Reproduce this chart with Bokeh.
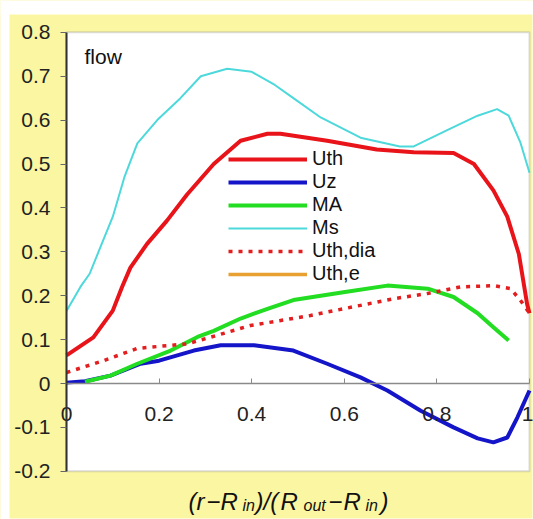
from bokeh.plotting import figure
from bokeh.models import (Legend, LegendItem, Label, FixedTicker, CustomJSTickFormatter,
                          Range1d, BoxAnnotation)
from bokeh.embed import file_html
from bokeh.resources import INLINE

# ---------------- data ----------------
ms_x = [0, 0.03, 0.05, 0.073, 0.10, 0.125, 0.153, 0.196, 0.246, 0.29, 0.347, 0.40, 0.45,
        0.49, 0.549, 0.635, 0.72, 0.75, 0.82, 0.888, 0.93, 0.955, 0.98, 1.0]
ms_y = [0.165, 0.22, 0.25, 0.31, 0.38, 0.47, 0.547, 0.60, 0.65, 0.70, 0.717, 0.71, 0.68,
        0.65, 0.606, 0.56, 0.54, 0.54, 0.576, 0.61, 0.625, 0.61, 0.55, 0.48]

uth_x = [0, 0.058, 0.10, 0.12, 0.138, 0.174, 0.217, 0.26, 0.318, 0.376, 0.434, 0.462,
         0.563, 0.67, 0.75, 0.836, 0.88, 0.922, 0.952, 0.977, 0.995, 1.0]
uth_y = [0.064, 0.105, 0.166, 0.22, 0.264, 0.318, 0.371, 0.43, 0.50, 0.553, 0.569, 0.569,
         0.553, 0.533, 0.527, 0.525, 0.50, 0.44, 0.38, 0.295, 0.18, 0.16]

uz_x = [0, 0.04, 0.095, 0.16, 0.2, 0.275, 0.333, 0.405, 0.49, 0.563, 0.635, 0.693,
        0.765, 0.836, 0.888, 0.922, 0.952, 0.974, 1.0]
uz_y = [0.002, 0.005, 0.018, 0.045, 0.052, 0.075, 0.087, 0.087, 0.075, 0.045, 0.014, -0.016,
        -0.062, -0.10, -0.125, -0.134, -0.123, -0.077, -0.016]

ma_x = [0.04, 0.095, 0.153, 0.225, 0.283, 0.318, 0.376, 0.434, 0.49, 0.598, 0.693, 0.78,
        0.836, 0.888, 0.922, 0.955]
ma_y = [0.004, 0.018, 0.045, 0.075, 0.106, 0.12, 0.148, 0.17, 0.19, 0.208, 0.223, 0.216,
        0.197, 0.16, 0.128, 0.098]

dia_x = [0, 0.08, 0.153, 0.225, 0.26, 0.326, 0.397, 0.46, 0.527, 0.635, 0.706, 0.78,
         0.851, 0.922, 0.959, 0.98, 1.0]
dia_y = [0.025, 0.052, 0.08, 0.087, 0.09, 0.11, 0.132, 0.143, 0.155, 0.178, 0.193, 0.205,
         0.22, 0.223, 0.216, 0.19, 0.16]

# Uth,e appears only in the legend (no visible curve)
uthe_x = [float("nan")]
uthe_y = [float("nan")]

x_ticks = [0, 0.2, 0.4, 0.6, 0.8, 1.0]
y_ticks = [-0.2, -0.1, 0, 0.1, 0.2, 0.3, 0.4, 0.5, 0.6, 0.7, 0.8]

# ---------------- page geometry (pixels) ----------------
FIG_W, FIG_H = 533, 519
FRAME_L, FRAME_R = 66.0, 529.0      # x = 0 .. 1
Y0_PX, PX_PER_Y = 383.0, 439.0      # y = 0 line, px per unit
px_to_x = lambda X: (X - FRAME_L) / (FRAME_R - FRAME_L)
px_to_y = lambda Y: (Y0_PX - Y) / PX_PER_Y

FONT = "Liberation Sans"
YELLOW = "#FAF6A2"

p = figure(width=FIG_W, height=FIG_H, output_backend="svg", toolbar_location=None,
           x_range=Range1d(px_to_x(0), px_to_x(FIG_W)),
           y_range=Range1d(px_to_y(FIG_H), px_to_y(0)),
           min_border=0)
p.title.visible = False
p.background_fill_color = YELLOW
p.border_fill_color = YELLOW
p.outline_line_color = None
p.xgrid.visible = False
p.ygrid.visible = False

# white page margins around the yellow panel
for kw in (dict(bottom=px_to_y(14)), dict(right=px_to_x(9)),
           dict(left=px_to_x(532)), dict(top=px_to_y(518))):
    p.add_layout(BoxAnnotation(fill_color="white", fill_alpha=1, line_color=None,
                               level="underlay", **kw))
# white plot area with grey border
p.add_layout(BoxAnnotation(left=0, right=1, bottom=-0.2, top=0.8, fill_color="white",
                           fill_alpha=1, line_color="#8a8a8a", line_width=2,
                           level="underlay"))

fmt = CustomJSTickFormatter(code="""
if (Math.abs(tick) < 1e-9) return "0";
if (Math.abs(tick - 1) < 1e-9) return "1";
return tick.toFixed(1);
""")

xa = p.xaxis[0]
xa.ticker = FixedTicker(ticks=x_ticks)
xa.formatter = fmt
xa.fixed_location = 0
xa.bounds = (0, 1)
xa.axis_line_color = "#8a8a8a"
xa.axis_line_width = 1.5
xa.major_tick_line_color = "#8a8a8a"
xa.major_tick_in = 5
xa.major_tick_out = 0
xa.minor_tick_line_color = None
xa.major_label_standoff = 23
xa.major_label_text_font = FONT
xa.major_label_text_font_size = "21px"
xa.major_label_text_color = "#222222"

ya = p.yaxis[0]
ya.ticker = FixedTicker(ticks=y_ticks)
ya.formatter = fmt
ya.fixed_location = 0
ya.bounds = (-0.2, 0.8)
ya.axis_line_color = "#333333"
ya.axis_line_width = 2
ya.major_tick_line_color = "#666666"
ya.major_tick_in = 0
ya.major_tick_out = 6
ya.minor_tick_line_color = None
ya.major_label_standoff = 10
ya.major_label_text_font = FONT
ya.major_label_text_font_size = "21px"
ya.major_label_text_color = "#222222"

r_uth = p.line(uth_x, uth_y, line_color="#E8141A", line_width=4, line_join="round")
r_uz = p.line(uz_x, uz_y, line_color="#1414C8", line_width=4, line_join="round")
r_ma = p.line(ma_x, ma_y, line_color="#22DD22", line_width=4, line_join="round")
r_ms = p.line(ms_x, ms_y, line_color="#4DD9DB", line_width=2, line_join="round")
r_dia = p.line(dia_x, dia_y, line_color="#E21E1E", line_width=3.5, line_dash="4 6")
r_uthe = p.line(uthe_x, uthe_y, line_color="#E8A030", line_width=3.5)

legend = Legend(items=[
    LegendItem(label="Uth", renderers=[r_uth]),
    LegendItem(label="Uz", renderers=[r_uz]),
    LegendItem(label="MA", renderers=[r_ma]),
    LegendItem(label="Ms", renderers=[r_ms]),
    LegendItem(label="Uth,dia", renderers=[r_dia]),
    LegendItem(label="Uth,e", renderers=[r_uthe]),
], location=(228, 234))
legend.margin = 0
legend.padding = 0
legend.spacing = 0
legend.glyph_width = 79
legend.glyph_height = 22
legend.label_height = 22
legend.label_standoff = 5
legend.label_text_font = FONT
legend.label_text_font_size = "20px"
legend.label_text_color = "#111111"
legend.border_line_color = None
legend.background_fill_alpha = 0
p.add_layout(legend, "center")

p.add_layout(Label(x=px_to_x(84), y=px_to_y(56), text="flow", text_font=FONT,
                   text_font_size="21px", text_color="#111111", text_baseline="alphabetic"))

# ---------------- x-axis title built from pieces (main text + subscripts) ----------------
MAIN, SUB = 24, 16
title_pieces = [("(r", 188, False), ("\u2212", 206, False), ("R", 220, False),
                ("in", 242, True), (")/(", 255, False), ("R", 280, False),
                ("out", 303, True), ("\u2212", 328, False), ("R", 343, False),
                ("in", 365, True), (")", 380, False)]
for txt, x_px, sub in title_pieces:
    p.add_layout(Label(x=px_to_x(x_px), y=px_to_y(505 if sub else 501), text=txt,
                       text_font=FONT, text_font_style="italic",
                       text_font_size=f"{SUB if sub else MAIN}px", text_color="#111111",
                       text_baseline="alphabetic", text_align="left"))

open("out.html", "w").write(file_html(p, INLINE))
